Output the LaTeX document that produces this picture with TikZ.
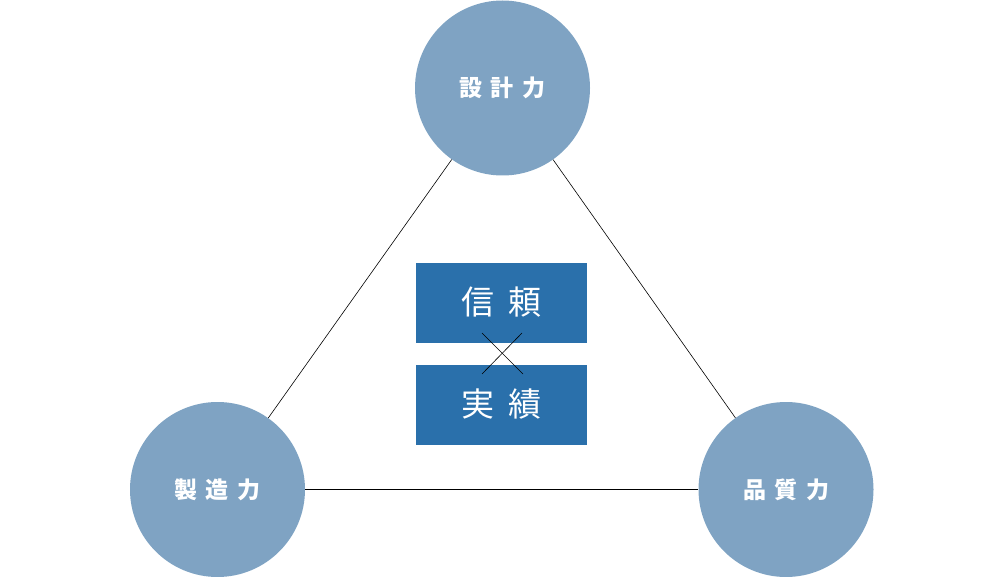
\documentclass[tikz,border=0pt]{standalone}
\usepackage{fontspec}
\newfontfamily\cjk{Noto Sans CJK JP}
\definecolor{circfill}{HTML}{7FA3C3}
\definecolor{boxfill}{HTML}{2A70AB}
\begin{document}
\begin{tikzpicture}[x=1pt,y=-1pt,
  force/.style={circle,fill=circfill,minimum size=175pt,inner sep=0pt,text=white,font=\cjk\bfseries\fontsize{23}{23}\selectfont},
  keybox/.style={rectangle,fill=boxfill,minimum width=171pt,minimum height=80pt,inner sep=0pt,text=white,font=\cjk\fontsize{33}{33}\selectfont},
  link/.style={draw=black,line width=0.6pt}]
\useasboundingbox (0,0) rectangle (1000,577);
\node[force] (top) at (502.5,88) {設\hspace{8.5pt}計\hspace{8.5pt}力};
\node[force] (left) at (217.5,489.5) {製\hspace{8.5pt}造\hspace{8.5pt}力};
\node[force] (right) at (786,489.5) {品\hspace{8.5pt}質\hspace{8.5pt}力};
\draw[link] (top) -- (left);
\draw[link] (top) -- (right);
\draw[link] (left) -- (right);
\node[keybox] (trust) at (501.5,302.5) {信\hspace{15pt}頼};
\node[keybox] (record) at (501.5,404.5) {実\hspace{15pt}績};
\coordinate (c1) at (482,333);
\coordinate (c2) at (523,374);
\coordinate (c3) at (522,333);
\coordinate (c4) at (482,374);
\draw[link] (c1) -- (c2);
\draw[link] (c3) -- (c4);
\end{tikzpicture}
\end{document}
